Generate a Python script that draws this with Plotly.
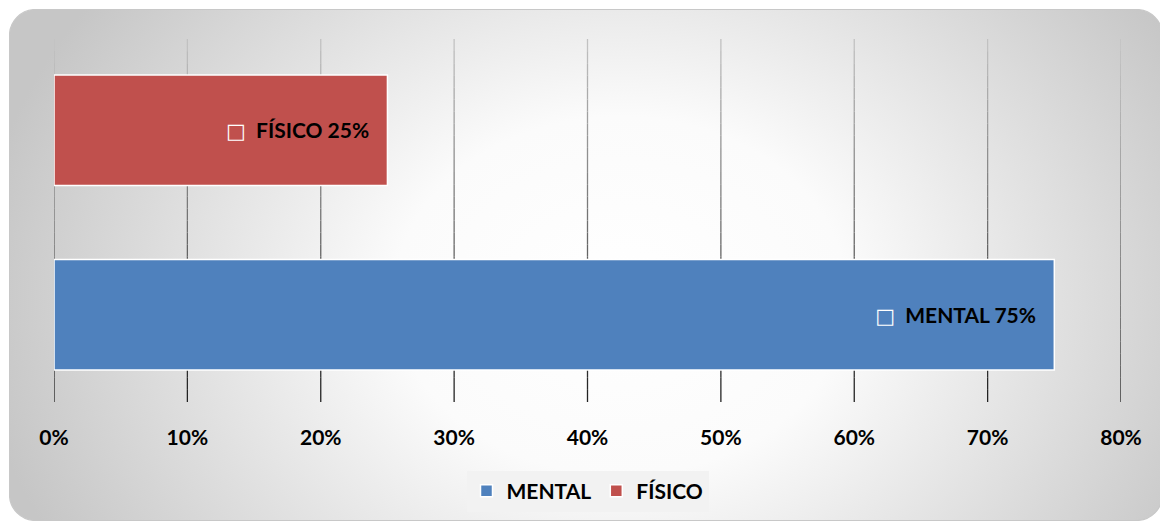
import base64
import plotly.graph_objects as go

# ---- data ----
categories = ["MENTAL", "FÍSICO"]
values = [0.75, 0.25]
colors = ["#4F81BD", "#C0504D"]
tick_values = [0, 0.1, 0.2, 0.3, 0.4, 0.5, 0.6, 0.7, 0.8]
tick_labels = ["0%", "10%", "20%", "30%", "40%", "50%", "60%", "70%", "80%"]

OFF = 8  # page body margin
W, H = 1168 - OFF, 525 - OFF
L, R, T, B = 54 - OFF, 1121 - OFF, 38 - OFF, 407 - OFF
pw, ph = R - L, B - T
FONT = "Lato"
FS = 21
NB = "\u00a0"

fig = go.Figure()
for cat, val, col in zip(categories, values, colors):
    fig.add_trace(go.Bar(
        y=[cat], x=[val], orientation="h", name=cat,
        marker=dict(color=col, line=dict(color="white", width=1.5)),
        width=0.6,
        text=[f"<span style='color:white;font-family:DejaVu Sans;font-weight:normal'>□</span>{NB*2}{cat} {val:.0%}{NB*3}"],
        textposition="inside", insidetextanchor="end",
        textfont=dict(family=FONT, size=FS, color="black", weight="bold"),
        hoverinfo="skip",
    ))

# background: rounded rect with elliptical radial gradient
bx0, by0, bx1, by1 = 9 - OFF, 9 - OFF, 1163 - OFF, 521 - OFF
bw, bh = bx1 - bx0, by1 - by0
gcx, gcy = 0.53 * bw, 0.56 * bh
gr = 0.56 * bw
sy = (1.0 * bh) / gr
svg = f'''<svg xmlns="http://www.w3.org/2000/svg" width="{bw}" height="{bh}" viewBox="0 0 {bw} {bh}" preserveAspectRatio="none">
<defs><radialGradient id="g" gradientUnits="userSpaceOnUse" cx="{gcx}" cy="{gcy}" r="{gr}"
 gradientTransform="translate({gcx},{gcy}) scale(1,{sy:.4f}) translate({-gcx},{-gcy})">
<stop offset="0%" stop-color="#ffffff"/><stop offset="35%" stop-color="#fbfbfb"/>
<stop offset="100%" stop-color="#c6c6c6"/></radialGradient></defs>
<rect x="0.5" y="0.5" width="{bw-1}" height="{bh-1}" rx="26" ry="26" fill="url(#g)" stroke="#c8c8c8" stroke-width="1.2"/>
</svg>'''
src = "data:image/svg+xml;base64," + base64.b64encode(svg.encode()).decode()
fig.add_layout_image(dict(
    source=src, xref="paper", yref="paper",
    x=(bx0 - L) / pw, y=(B - by0) / ph,
    sizex=bw / pw, sizey=bh / ph,
    xanchor="left", yanchor="top", sizing="stretch", layer="below",
))

# gradient gridlines
nseg = 30
y_lo, y_hi = (B - (402 - OFF)) / ph, (B - (39 - OFF)) / ph
for tv in tick_values:
    for i in range(nseg):
        f = i / nseg
        ya = y_lo + (y_hi - y_lo) * f
        yb = y_lo + (y_hi - y_lo) * (f + 1 / nseg)
        c = int(0x20 + (0xc4 - 0x20) * (f + 0.5 / nseg))
        fig.add_shape(type="line", xref="x", yref="paper", x0=tv, x1=tv, y0=ya, y1=yb,
                      line=dict(color=f"rgb({c},{c},{c})", width=1.3), layer="below")

fig.update_layout(
    width=W, height=H,
    margin=dict(l=L, r=W - R, t=T, b=H - B),
    paper_bgcolor="white", plot_bgcolor="rgba(0,0,0,0)",
    barmode="overlay",
    showlegend=True,
    legend=dict(orientation="h", x=0.5, xanchor="center", y=(B - (491 - OFF)) / ph, yanchor="middle",
                bgcolor="#f2f2f2", font=dict(family=FONT, size=FS, color="black", weight="bold"),
                itemwidth=30, traceorder="normal"),
    font=dict(family=FONT),
    uniformtext=dict(mode=False),
)
fig.update_xaxes(range=[0, 0.8], tickvals=tick_values, ticktext=tick_labels,
                 showgrid=False, zeroline=False, showline=False,
                 ticks="outside", ticklen=12, tickcolor="rgba(0,0,0,0)",
                 tickfont=dict(family=FONT, size=FS, color="black", weight="bold"))
fig.update_yaxes(categoryorder="array", categoryarray=categories, range=[-0.5, 1.5],
                 showticklabels=False, showgrid=False, zeroline=False, showline=False)

fig.write_html("out.html")
